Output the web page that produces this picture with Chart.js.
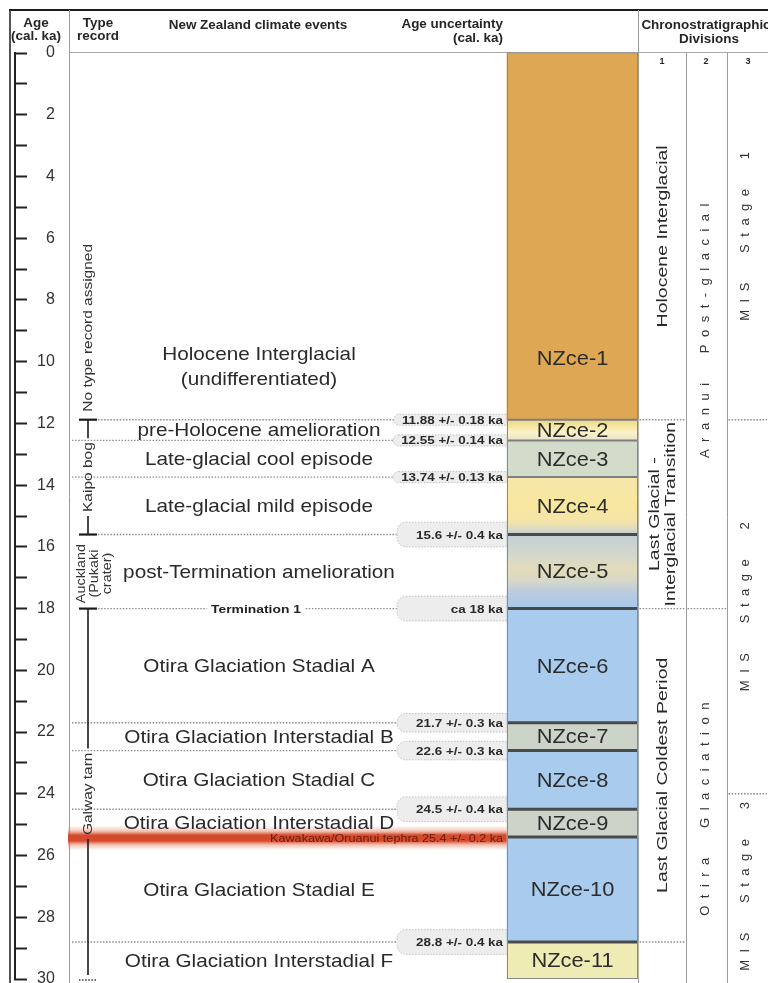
<!DOCTYPE html>
<html>
<head>
<meta charset="utf-8">
<title>New Zealand climate event stratigraphy, 0–30 cal. ka</title>
<script src="https://cdn.jsdelivr.net/npm/chart.js@4.4.1/dist/chart.umd.min.js"></script>
<style>
  html, body { margin: 0; padding: 0; background: #ffffff; }
  canvas { display: block; }
</style>
</head>
<body>
<canvas id="strat" width="768" height="983"></canvas>
<script>
// ---------------------------------------------------------------
// Data
// ---------------------------------------------------------------
const ageMin = 0;
const ageMax = 30;

// New Zealand climate events (NZce), ages in cal. ka
const eventCodes = ['NZce-1', 'NZce-2', 'NZce-3', 'NZce-4', 'NZce-5', 'NZce-6',
                    'NZce-7', 'NZce-8', 'NZce-9', 'NZce-10', 'NZce-11'];
const eventNames = [
  'Holocene Interglacial\n(undifferentiated)',
  'pre-Holocene amelioration',
  'Late-glacial cool episode',
  'Late-glacial mild episode',
  'post-Termination amelioration',
  'Otira Glaciation Stadial A',
  'Otira Glaciation Interstadial B',
  'Otira Glaciation Stadial C',
  'Otira Glaciation Interstadial D',
  'Otira Glaciation Stadial E',
  'Otira Glaciation Interstadial F'
];
const eventStart = [0, 11.88, 12.55, 13.74, 15.6, 18, 21.7, 22.6, 24.5, 25.4, 28.8];
const eventEnd   = [11.88, 12.55, 13.74, 15.6, 18, 21.7, 22.6, 24.5, 25.4, 28.8, 30];

// Dated event boundaries and their age uncertainty
const boundaryAges   = [11.88, 12.55, 13.74, 15.6, 18, 21.7, 22.6, 24.5, 28.8];
const boundaryErrors = [0.18, 0.14, 0.13, 0.4, null, 0.3, 0.3, 0.4, 0.4];
const boundaryLabels = ['11.88 +/- 0.18 ka', '12.55 +/- 0.14 ka', '13.74 +/- 0.13 ka',
                        '15.6 +/- 0.4 ka', 'ca 18 ka', '21.7 +/- 0.3 ka',
                        '22.6 +/- 0.3 ka', '24.5 +/- 0.4 ka', '28.8 +/- 0.4 ka'];
const boundaryNames  = ['', '', '', '', 'Termination 1', '', '', '', ''];

// Marker tephra
const tephraName  = 'Kawakawa/Oruanui tephra';
const tephraAge   = 25.4;
const tephraError = 0.2;

// Type records
const recordNames = ['No type record assigned', 'Kaipo bog', 'Auckland\n(Pukaki\ncrater)', 'Galway tarn'];
const recordStart = [0, 11.88, 15.6, 18];
const recordEnd   = [11.88, 15.6, 18, 30];

// Chronostratigraphic divisions (columns 1, 2, 3)
const div1Names = ['Holocene Interglacial', 'Last Glacial -\nInterglacial Transition', 'Last Glacial Coldest Period'];
const div1Start = [0, 11.88, 18];
const div1End   = [11.88, 18, 28.8];
const div2Names = ['Aranui Post-glacial', 'Otira Glaciation'];
const div2Start = [0, 18];
const div2End   = [18, 31];
const div3Names = ['MIS Stage 1', 'MIS Stage 2', 'MIS Stage 3'];
const div3Start = [0, 11.88, 24];
const div3End   = [11.88, 24, 30];

// ---------------------------------------------------------------
// Styling and layout
// ---------------------------------------------------------------
const FONT = "'Liberation Sans', Arial, Helvetica, sans-serif";
const INK = '#262626';

const flatFill = {
  'NZce-1': '#dea753', 'NZce-3': '#d3dbca', 'NZce-6': '#a9cbee', 'NZce-7': '#ccd4c9',
  'NZce-8': '#a9cbee', 'NZce-9': '#ccd4c9', 'NZce-10': '#a9cbee', 'NZce-11': '#eeebb5'
};
const gradientFill = {
  'NZce-2': [[0, '#e9d88c'], [0.35, '#f6e8a4'], [0.62, '#fbf2c9'], [1, '#e3e5c8']],
  'NZce-4': [[0, '#f5e7aa'], [0.5, '#f8e79f'], [0.78, '#f4e4a9'], [0.92, '#d6dac7'], [1, '#bccad6']],
  'NZce-5': [[0, '#c4cfd6'], [0.25, '#d2d7cd'], [0.48, '#e3dcba'], [0.62, '#d6d8c8'], [0.8, '#b8cae0'], [1, '#a9c9ed']]
};

const layout = {
  columnCenter: 572.5,     // NZce column (x-scale is in page pixels)
  columnWidth: 131,
  typeSep: 69.5,
  recordX: 88,
  capL: 79, capR: 97,
  eventX: 259,
  leaderStart: 72,
  bubbleLeftMax: 397,
  labelRight: 503,
  divX: [638.5, 686.5, 727.5, 768]
};
// how each type record is marked
const recordStyle = ['note', 'bracket', 'stack', 'open'];

function eventFill(ctx) {
  const i = ctx.dataIndex;
  if (ctx.type !== 'data') return '#cccccc';
  const code = eventCodes[i];
  const stops = gradientFill[code];
  if (stops && ctx.chart.chartArea) {
    const y = ctx.chart.scales.y;
    const g = ctx.chart.ctx.createLinearGradient(0, y.getPixelForValue(eventStart[i]), 0, y.getPixelForValue(eventEnd[i]));
    stops.forEach(([o, col]) => g.addColorStop(o, col));
    return g;
  }
  return flatFill[code] || '#cccccc';
}

// ---------------------------------------------------------------
// Drawing helpers
// ---------------------------------------------------------------
function txt(c, s, x, y, o) {
  c.save();
  c.font = o.font;
  c.fillStyle = o.color || INK;
  c.textAlign = o.align || 'center';
  c.textBaseline = 'middle';
  if (o.ls) c.letterSpacing = o.ls + 'px';
  c.translate(x, y);
  if (o.rot) c.rotate(-Math.PI / 2);
  if (o.sx) c.scale(o.sx, 1);
  c.fillText(s, 0, 0);
  c.restore();
}
function textLen(c, s, font, sx, ls) {
  c.save();
  c.font = font;
  if (ls) c.letterSpacing = ls + 'px';
  const w = c.measureText(s).width * (sx || 1);
  c.restore();
  return w;
}
function line(c, x1, y1, x2, y2, color, w) {
  c.save();
  c.strokeStyle = color; c.lineWidth = w;
  c.beginPath(); c.moveTo(x1, y1); c.lineTo(x2, y2); c.stroke();
  c.restore();
}
function dotted(c, x1, x2, y, color) {
  c.save();
  c.setLineDash([1.5, 1.6]);
  c.strokeStyle = color || '#8c8c8c'; c.lineWidth = 1.4;
  c.beginPath(); c.moveTo(x1, y); c.lineTo(x2, y); c.stroke();
  c.restore();
}

// ---------------------------------------------------------------
// Plugin: header, type records, event labels, divisions
// ---------------------------------------------------------------
const stratPlugin = {
  id: 'stratColumns',
  beforeDatasetsDraw(chart) {
    const c = chart.ctx;
    const yS = chart.scales.y;
    const Y = a => yS.getPixelForValue(a);
    const H = chart.height;
    const bar = chart.getDatasetMeta(0).data[0];
    const colL = bar.x - bar.width / 2;
    const D = layout.divX;

    // frame and column separators
    line(c, 9, 10, 768, 10, '#1c1c1c', 2.2);
    line(c, 10, 10, 10, H, '#2a2a2a', 1.6);
    line(c, layout.typeSep, 10, layout.typeSep, H, '#9c9c9c', 1);
    line(c, D[0], 10, D[0], H, '#9c9c9c', 1);
    line(c, D[1], 52, D[1], H, '#9c9c9c', 1);
    line(c, D[2], 52, D[2], H, '#9c9c9c', 1);
    line(c, layout.typeSep, 52.5, 768, 52.5, '#a8a8a8', 1);

    // headers
    const hf = `bold 12px ${FONT}`;
    txt(c, 'Age', 36, 24, { font: hf, sx: 1.12 });
    txt(c, '(cal. ka)', 36, 37, { font: hf, sx: 1.12 });
    txt(c, 'Type', 98, 24, { font: hf, sx: 1.12 });
    txt(c, 'record', 98, 37, { font: hf, sx: 1.12 });
    txt(c, 'New Zealand climate events', 258, 26, { font: hf, sx: 1.12 });
    txt(c, 'Age uncertainty', layout.labelRight, 25, { font: hf, sx: 1.12, align: 'right' });
    txt(c, '(cal. ka)', layout.labelRight, 39, { font: hf, sx: 1.12, align: 'right' });
    txt(c, 'Chronostratigraphic', 706, 26, { font: hf, sx: 1.12 });
    txt(c, 'Divisions', 709, 40, { font: hf, sx: 1.12 });
    const nf = `bold 9px ${FONT}`;
    txt(c, '1', 662, 62, { font: nf });
    txt(c, '2', 706, 62, { font: nf });
    txt(c, '3', 748, 62, { font: nf });

    // boundary leaders, uncertainty bubbles
    const bf = `bold 11px ${FONT}`;
    const recordBounds = recordStart.filter(a => a > ageMin);
    boundaryAges.forEach((age, i) => {
      const y = Y(age);
      const err = boundaryErrors[i] != null ? boundaryErrors[i] : 0.4;
      const half = Math.max((Y(age + err) - Y(age - err)) / 2, 5.5);
      const w = textLen(c, boundaryLabels[i], bf, 1.22);
      const left = Math.min(layout.bubbleLeftMax, layout.labelRight - w - 8);
      const x0 = recordBounds.includes(age) ? layout.capR + 1 : layout.leaderStart;
      dotted(c, x0, left, y);

      c.save();
      c.beginPath();
      const r = Math.min(half, 9);
      c.roundRect(left, y - half, colL - left, 2 * half, [r, 0, 0, r]);
      c.fillStyle = '#ededed';
      c.fill();
      c.setLineDash([1.5, 1.5]);
      c.strokeStyle = '#c0c0c0';
      c.lineWidth = 1;
      c.stroke();
      c.restore();
      txt(c, boundaryLabels[i], layout.labelRight, y + 1, { font: bf, sx: 1.22, align: 'right', color: '#2a2a2a' });

      if (boundaryNames[i]) {
        const nw = textLen(c, boundaryNames[i], bf, 1.26);
        c.fillStyle = '#ffffff';
        c.fillRect(256 - nw / 2 - 4, y - 3, nw + 8, 6);
        txt(c, boundaryNames[i], 256, y + 1, { font: bf, sx: 1.26, color: '#222' });
      }
    });

    // marker tephra band
    {
      const yc = Y(tephraAge) + 1;
      const h = (Y(tephraAge + tephraError) - Y(tephraAge - tephraError));
      const g = c.createLinearGradient(0, yc - h, 0, yc + h);
      g.addColorStop(0, 'rgba(235,140,110,0)');
      g.addColorStop(0.22, 'rgba(228,120,90,0.45)');
      g.addColorStop(0.38, '#d54a2c');
      g.addColorStop(0.62, '#d54a2c');
      g.addColorStop(0.78, 'rgba(228,120,90,0.45)');
      g.addColorStop(1, 'rgba(235,140,110,0)');
      c.fillStyle = g;
      c.fillRect(68, yc - h, colL - 68, 2 * h);
      txt(c, `${tephraName} ${tephraAge} +/- ${tephraError} ka`, layout.labelRight, yc + 1,
        { font: `10.5px ${FONT}`, sx: 1.2, align: 'right', color: '#6e1a0c' });
    }

    // climate event names
    const ef = `18.5px ${FONT}`;
    eventNames.forEach((name, i) => {
      const lines = name.split('\n');
      let yc = (Y(eventStart[i]) + Y(eventEnd[i])) / 2 + 1;
      if (eventEnd[i] - eventStart[i] > 6) yc = Y(eventEnd[i]) - 52;
      lines.forEach((ln, k) => {
        txt(c, ln, layout.eventX, yc + (k - (lines.length - 1) / 2) * 25, { font: ef, sx: 1.12, color: '#2a2a2a' });
      });
    });

    // type records
    const RX = layout.recordX;
    const rf = `13px ${FONT}`;
    recordNames.forEach((name, i) => {
      const y0 = Y(recordStart[i]);
      const y1 = Y(recordEnd[i]);
      const ym = (y0 + y1) / 2;
      const style = recordStyle[i];
      if (style === 'note') {
        txt(c, name, RX, y1 - 8, { font: rf, sx: 1.19, rot: true, align: 'left', color: '#333' });
      } else if (style === 'stack') {
        const lines = name.split('\n');
        lines.forEach((ln, k) => {
          txt(c, ln, RX + 7 + (k - (lines.length - 1) / 2) * 13, ym + 2,
            { font: `12.5px ${FONT}`, sx: 1.15, rot: true, color: '#333' });
        });
      } else {
        const L = textLen(c, name, rf, 1.19);
        const g0 = ym - L / 2 - 4, g1 = ym + L / 2 + 4;
        const yEnd = style === 'open' ? y1 - 4 : y1;
        line(c, RX, y0, RX, g0, '#1a1a1a', 1.6);
        line(c, RX, g1, RX, yEnd, '#1a1a1a', 1.6);
        line(c, layout.capL, y0, layout.capR, y0, '#1a1a1a', 2.2);
        if (style === 'open') {
          dotted(c, layout.capL, layout.capR, y1 + 1, '#333');
        } else {
          line(c, layout.capL, y1, layout.capR, y1, '#1a1a1a', 2.2);
        }
        txt(c, name, RX, ym, { font: rf, sx: 1.19, rot: true, color: '#333' });
      }
    });

    // chronostratigraphic divisions
    const divCols = [
      { names: div1Names, start: div1Start, end: div1End, x0: D[0], x1: D[1], cx: 663, spaced: false },
      { names: div2Names, start: div2Start, end: div2End, x0: D[1], x1: D[2], cx: 705, spaced: true },
      { names: div3Names, start: div3Start, end: div3End, x0: D[2], x1: D[3], cx: 745, spaced: true }
    ];
    divCols.forEach(col => {
      col.names.forEach((name, i) => {
        const a0 = col.start[i];
        const a1 = Math.min(col.end[i], ageMax + 1);
        if (i > 0) dotted(c, col.x0 + 1, col.x1 - 1, Y(a0));
        if (i === col.names.length - 1 && col.end[i] < ageMax) dotted(c, col.x0 + 1, col.x1 - 1, Y(col.end[i]));
        const ym = (Y(a0) + Y(a1)) / 2;
        if (col.spaced) {
          const s = name.replace(/ /g, '  ');
          const ls = 7.5;
          const w = textLen(c, s, `13px ${FONT}`, 1, ls) - ls;
          txt(c, s, col.cx, ym + w / 2, { font: `13px ${FONT}`, ls, rot: true, align: 'left', color: '#333' });
        } else {
          const lines = name.split('\n');
          lines.forEach((ln, k) => {
            txt(c, ln, col.cx + (k - (lines.length - 1) / 2) * 15.5, ym,
              { font: `15px ${FONT}`, sx: 1.3, rot: true, color: '#2a2a2a' });
          });
        }
      });
    });
  },

  afterDatasetsDraw(chart) {
    const c = chart.ctx;
    const yS = chart.scales.y;
    const Y = a => yS.getPixelForValue(a);
    const bar = chart.getDatasetMeta(0).data[0];
    const l = bar.x - bar.width / 2, r = bar.x + bar.width / 2;

    // event boundaries inside the column
    for (let i = 1; i < eventCodes.length; i++) {
      const age = eventStart[i];
      const heavy = age >= 15;
      line(c, l, Y(age), r, Y(age), heavy ? '#4a4a4a' : '#7e7e7e', heavy ? 3 : 2);
    }
    c.save();
    c.strokeStyle = '#8a8a8a'; c.lineWidth = 1;
    c.strokeRect(l + 0.5, Y(ageMin), r - l - 1, Y(ageMax) - Y(ageMin) - 0.5);
    c.restore();

    // event codes
    eventCodes.forEach((code, i) => {
      let yc = (Y(eventStart[i]) + Y(eventEnd[i])) / 2 + 1;
      if (eventEnd[i] - eventStart[i] > 6) yc = Y(eventEnd[i]) - 60;
      txt(c, code, bar.x, yc, { font: `21px ${FONT}`, sx: 1.04, color: '#2c2c2c' });
    });
  }
};

// ---------------------------------------------------------------
// Chart
// ---------------------------------------------------------------
new Chart(document.getElementById('strat'), {
  type: 'bar',
  data: {
    datasets: [{
      label: 'NZce',
      data: eventCodes.map((code, i) => ({ x: layout.columnCenter, y: [eventStart[i], eventEnd[i]] })),
      backgroundColor: eventFill,
      borderWidth: 0,
      barThickness: layout.columnWidth
    }]
  },
  options: {
    responsive: false,
    devicePixelRatio: 1,
    animation: false,
    layout: { padding: { top: 53, left: 15, right: 0, bottom: 4 } },
    plugins: { legend: { display: false }, tooltip: { enabled: false }, title: { display: false } },
    scales: {
      x: { type: 'linear', display: false, offset: false, min: 15, max: 768 },
      y: {
        type: 'linear',
        position: 'left',
        reverse: true,
        min: ageMin,
        max: ageMax,
        afterFit(s) { s.width = 0; s.paddingTop = 0; s.paddingBottom = 0; },
        ticks: {
          stepSize: 1,
          autoSkip: false,
          mirror: true,
          crossAlign: 'far',
          padding: 22,
          color: '#333333',
          font: { family: FONT, size: 16 },
          callback: v => (v % 2 === 0 ? String(v) : '')
        },
        grid: { display: true, drawOnChartArea: false, drawTicks: true, tickLength: -12, tickWidth: 2, tickColor: '#222222' },
        border: { display: true, color: '#222222', width: 2 }
      }
    }
  },
  plugins: [stratPlugin]
});
</script>
</body>
</html>
